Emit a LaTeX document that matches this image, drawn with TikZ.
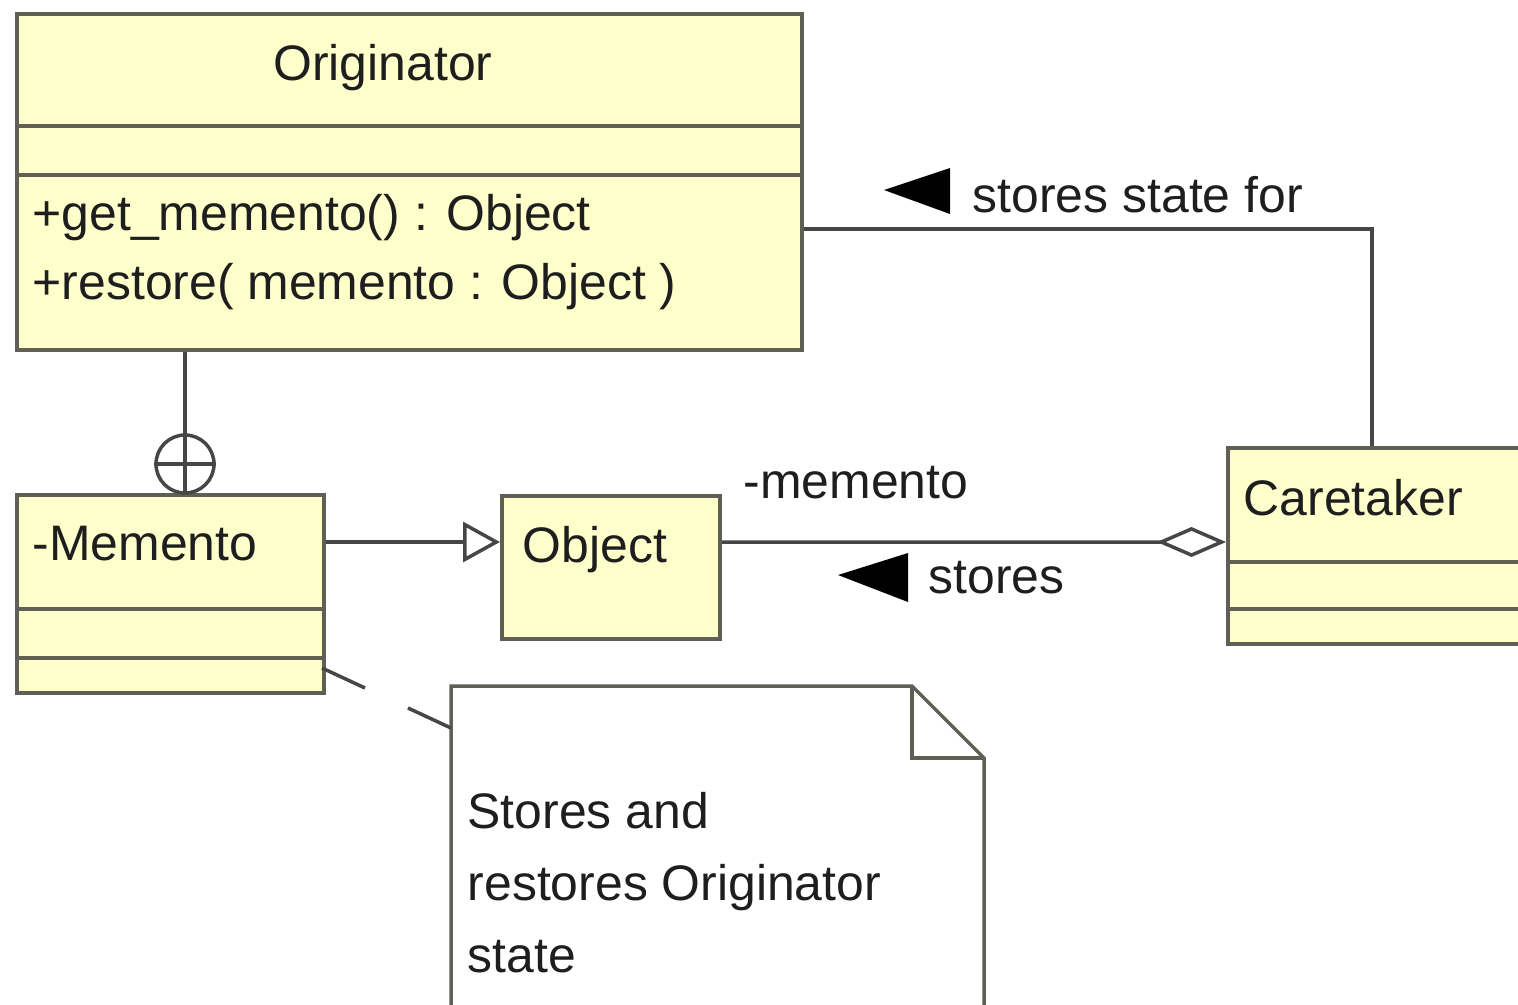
\documentclass[tikz,border=0pt]{standalone}
\usepackage{fontspec}
\setmainfont{Liberation Sans}
\usepackage{tikz}
\usetikzlibrary{arrows.meta, calc}
\usepackage{xcolor}
\definecolor{umlyellow}{RGB}{255,255,204}
\definecolor{boxline}{RGB}{95,95,85}
\definecolor{connline}{RGB}{70,70,70}
\definecolor{inktext}{RGB}{30,30,30}
\tikzset{
  classbox/.style={draw=boxline, fill=umlyellow, line width=0.4mm, inner sep=0pt, anchor=north west},
  partline/.style={draw=boxline, line width=0.35mm},
  conn/.style={draw=connline, line width=0.35mm},
  umltext/.style={font=\fontsize{14.2}{20}\selectfont, text=inktext, inner sep=0pt, anchor=base west},
}

\begin{document}
\begin{tikzpicture}[x=1mm, y=-1mm]
        \useasboundingbox (0, 0) rectangle (151.8, 100.4);
        \clip (0, 0) rectangle (151.8, 100.4);
        % Class boxes
        \node [classbox, minimum width=78.5mm, minimum height=33.6mm] (orig) at (1.5, 1.2) {};
        \node [classbox, minimum width=30.7mm, minimum height=19.8mm] (memento) at (1.5, 49.3) {};
        \node [classbox, minimum width=21.8mm, minimum height=14.3mm] (object) at (50.0, 49.4) {};
        \node [classbox, minimum width=40mm, minimum height=19.6mm] (care) at (122.6, 44.6) {};
        % Compartments
        \draw [partline] (1.5, 12.6) -- (80.0, 12.6);
        \draw [partline] (1.5, 17.5) -- (80.0, 17.5);
        \draw [partline] (1.5, 60.9) -- (32.2, 60.9);
        \draw [partline] (1.5, 65.8) -- (32.2, 65.8);
        \draw [partline] (122.6, 56.2) -- (162.6, 56.2);
        \draw [partline] (122.6, 60.9) -- (162.6, 60.9);
        % Texts
        \node [umltext, anchor=base] (origname) at (38.3, 8.0) {Originator};
        \node [umltext] (getop) at (3.2, 23.0) {+get\_memento() : Object};
        \node [umltext] (restoreop) at (3.2, 29.9) {+restore( memento : Object )};
        \node [umltext] (memname) at (3.2, 56.0) {-Memento};
        \node [umltext] (objname) at (52.2, 56.2) {Object};
        \node [umltext] (carename) at (124.3, 51.5) {Caretaker};
        % Note
        \draw [partline, fill=white] (45.1, 102) -- (45.1, 68.6) -- (91.2, 68.6) -- (98.4, 75.8) -- (98.4, 102);
        \draw [partline] (91.2, 68.6) -- (91.2, 75.8) -- (98.4, 75.8);
        \node [umltext] (note1) at (46.7, 82.8) {Stores and};
        \node [umltext] (note2) at (46.7, 90.0) {restores Originator};
        \node [umltext] (note3) at (46.7, 97.2) {state};
        \coordinate (memcorner) at (32.2, 66.8);
        \coordinate (notelink) at (45.1, 72.8);
        \draw [conn, dash pattern=on 4.74mm off 4.74mm] (memcorner) -- (notelink);
        % Nesting
        \node at (18.5, 46.4) [draw=connline, line width=0.35mm, circle, minimum size=5.8mm, inner sep=0pt] (nest) {};
        \draw [conn] ($(orig.south west)+(17, 0)$) -- ($(memento.north west)+(17, 0)$);
        \draw [conn] (nest.west) -- (nest.east);
        % Generalization
        \draw [conn, -{Triangle[open, length=3.7mm, width=4mm]}] ($(memento.north east)+(0, 4.9)$) -- ($(object.north west)+(0, 4.8)$);
        % Aggregation
        \draw [conn, {Diamond[open, length=6.9mm, width=3mm]}-] ($(care.north west)+(0, 9.6)$) -- ($(object.north east)+(0, 4.8)$);
        \node [umltext] (rolename) at (74.3, 49.8) {-memento};
        \fill [black] (83.8, 57.5) -- (90.8, 55.3) -- (90.8, 60.2) -- cycle;
        \node [umltext] (storeslabel) at (92.8, 59.3) {stores};
        % Association
        \draw [conn] ($(orig.north east)+(0, 21.7)$) -| ($(care.north west)+(14.6, 0)$);
        \fill [black] (88.4, 19.0) -- (95.0, 16.8) -- (95.0, 21.4) -- cycle;
        \node [umltext] (stateslabel) at (97.2, 21.2) {stores state for};
\end{tikzpicture}
\end{document}
